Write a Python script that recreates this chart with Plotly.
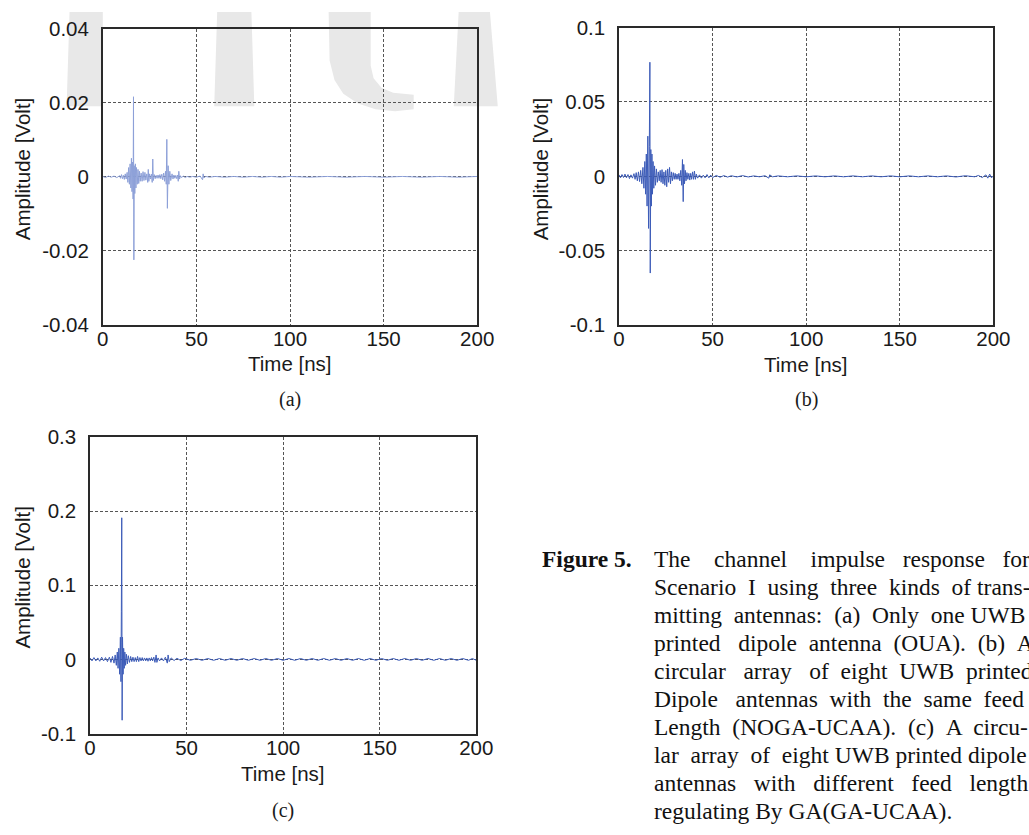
import plotly.graph_objects as go

W, H = 1029, 835

# ---------------- data ----------------
A_T = [0, 1.5, 3, 4.5, 6, 7.5, 9, 9.5, 10, 10.5,
       11, 11.5, 12, 12.5, 13, 13.4, 13.8, 14.2, 14.6, 15,
       15.3, 15.6, 15.9, 16.2, 16.4, 16.6, 16.8, 17.1, 17.4, 17.7,
       18, 18.4, 18.8, 19.2, 19.6, 20, 20.5, 21, 21.5, 22,
       22.5, 23, 23.5, 24, 24.3, 24.6, 25, 25.5, 26, 26.4,
       26.7, 27, 27.5, 28, 28.5, 29, 29.5, 30, 30.5, 31,
       31.5, 32, 32.5, 33, 33.5, 33.9, 34.2, 34.5, 34.9, 35.3,
       35.8, 36.3, 37, 37.5, 38, 38.5, 39, 39.5, 40, 40.3,
       40.6, 41, 41.5, 42, 43, 44, 45, 46.5, 48, 50,
       52, 53.3, 53.6, 54, 55, 57, 60, 65, 70, 75,
       80, 85, 90, 95, 100, 110, 120, 130, 140, 150,
       160, 170, 180, 190, 200]
A_V = [0.0001, -0.0002, 0.0002, -0.0001, 0.0002, -0.0002, 0.0003, -0.0004, 0.0006, -0.0005,
       0.0004, -0.0007, 0.0008, -0.0006, 0.0012, -0.0015, 0.0025, -0.002, 0.0035, -0.003,
       0.005, -0.004, 0.004, -0.006, 0.0216, -0.0224, 0.003, -0.0045, 0.0035, -0.003,
       0.0025, -0.002, 0.002, -0.0018, 0.0015, -0.0012, 0.001, -0.0012, 0.0014, -0.001,
       0.0012, -0.0009, 0.0008, -0.0015, 0.002, -0.0012, 0.0008, -0.0006, 0.0007, -0.0015,
       0.0048, -0.001, 0.0006, -0.0005, 0.0004, -0.0004, 0.0005, -0.0004, 0.0006, -0.0005,
       0.0007, -0.0008, 0.001, -0.0012, 0.0015, -0.002, 0.0101, -0.0085, 0.003, -0.002,
       0.0015, -0.001, 0.0008, -0.0006, 0.0005, -0.0004, 0.0004, -0.0005, 0.0005, -0.0012,
       0.0015, -0.0006, 0.0003, -0.0002, 0.0002, -0.0002, 0.0001, -0.0001, 0.0001, -0.0001,
       0.0002, -0.0008, 0.0008, -0.0003, 0.0001, -0.0001, 0.0001, -0.0001, 0.0001, -0.0001,
       0.0001, -0.0001, 0.0001, -0.0001, 0.0001, -0.0001, 0.0001, -0.0001, 0.0001, -0.0001,
       0.0001, -0.0001, 0.0001, -0.0001, 0.0001]

B_T = [0, 0.8, 1.6, 2.4, 3.2, 4, 4.8, 5.6, 6.4, 7.2,
       8, 8.6, 9.2, 9.8, 10.4, 11, 11.6, 12.2, 12.8, 13.3,
       13.8, 14.2, 14.6, 15, 15.4, 15.8, 16.2, 16.5, 16.7, 17,
       17.3, 17.6, 17.9, 18.2, 18.6, 19, 19.5, 20, 20.5, 21,
       21.5, 22, 22.5, 23, 23.5, 24, 24.5, 25, 25.5, 26,
       26.5, 27, 27.5, 28, 28.5, 29, 29.5, 30, 30.5, 31,
       31.5, 32, 32.5, 33, 33.5, 33.9, 34.3, 34.6, 35, 35.4,
       35.8, 36.3, 36.8, 37.3, 37.8, 38.3, 38.8, 39.3, 39.8, 40.3,
       40.8, 41.3, 42, 43, 44, 45, 46, 47, 48, 49,
       50, 52, 54, 56, 58, 60, 63, 66, 69, 72,
       75, 78, 80, 80.5, 82, 85, 90, 95, 100, 105,
       110, 115, 120, 125, 130, 135, 140, 145, 150, 155,
       160, 165, 170, 175, 180, 185, 190, 192, 194, 196,
       197, 198, 199, 200]
B_V = [0.001, -0.001, 0.0012, -0.0008, 0.0015, -0.001, 0.0012, -0.0015, 0.001, -0.0012,
       0.0018, -0.002, 0.0025, -0.003, 0.003, -0.0035, 0.004, -0.005, 0.006, -0.008,
       0.01, -0.012, 0.015, -0.02, 0.027, -0.035, 0.02, 0.0767, -0.065, 0.018,
       -0.02, 0.015, -0.012, 0.01, -0.008, 0.007, -0.006, 0.005, -0.004, 0.003,
       -0.003, 0.004, -0.004, 0.0045, -0.005, 0.003, -0.006, 0.004, -0.007, 0.005,
       -0.004, 0.006, -0.005, 0.003, -0.003, 0.0025, -0.002, 0.002, -0.002, 0.0015,
       -0.002, 0.002, -0.003, 0.004, -0.006, 0.0113, -0.017, 0.008, -0.005, 0.004,
       -0.003, 0.0025, -0.002, 0.002, -0.0025, 0.002, -0.002, 0.003, -0.002, 0.0035,
       -0.002, 0.0015, -0.0012, 0.001, -0.0012, 0.0008, -0.001, 0.0012, -0.001, 0.0008,
       -0.0008, 0.0006, -0.0006, 0.0005, -0.0005, 0.0004, -0.0004, 0.0005, -0.0004, 0.0003,
       -0.0003, 0.0004, -0.0012, 0.001, -0.0003, 0.0003, -0.0003, 0.0003, -0.0003, 0.0003,
       -0.0003, 0.0003, -0.0003, 0.0003, -0.0003, 0.0003, -0.0003, 0.0003, -0.0003, 0.0003,
       -0.0003, 0.0003, -0.0003, 0.0003, -0.0004, 0.0004, -0.0003, 0.0006, -0.0008, 0.001,
       -0.0012, 0.0015, -0.001, 0.0005]

C_T = [0, 1, 2, 3, 4, 5, 6, 7, 8, 9,
       10, 10.8, 11.6, 12.4, 13, 13.6, 14.1, 14.5, 14.9, 15.3,
       15.7, 16, 16.2, 16.4, 16.6, 16.8, 17.1, 17.4, 17.7, 18,
       18.4, 18.8, 19.3, 19.8, 20.4, 21, 21.6, 22.2, 22.8, 23.4,
       24, 24.6, 25.2, 25.8, 26.4, 27, 27.6, 28.2, 28.8, 29.4,
       30, 30.6, 31.2, 31.8, 32.4, 33, 33.6, 34.2, 34.6, 35.2,
       36, 37, 38, 39, 40, 40.4, 41, 42, 43.5, 45,
       47, 49, 52, 55, 58, 61, 64, 67, 70, 73,
       76, 79, 82, 85, 88, 91, 94, 97, 100, 103,
       106, 109, 112, 115, 118, 121, 124, 127, 130, 133,
       136, 139, 142, 145, 148, 151, 154, 157, 160, 163,
       166, 169, 172, 175, 178, 181, 184, 187, 190, 193,
       196, 198, 200]
C_V = [0.002, -0.002, 0.0025, -0.002, 0.002, -0.0025, 0.003, -0.002, 0.0025, -0.003,
       0.003, -0.004, 0.004, -0.005, 0.006, -0.008, 0.01, -0.012, 0.015, -0.02,
       0.03, -0.03, 0.065, 0.191, -0.082, 0.03, -0.02, 0.015, -0.012, 0.01,
       -0.008, 0.007, -0.006, 0.005, -0.004, 0.004, -0.003, 0.003, -0.003, 0.0025,
       -0.003, 0.004, -0.003, 0.0025, -0.002, 0.0025, -0.002, 0.002, -0.002, 0.002,
       -0.0025, 0.002, -0.002, 0.0025, -0.002, 0.003, -0.004, 0.006, -0.004, 0.002,
       -0.002, 0.002, -0.002, 0.003, -0.005, 0.006, -0.003, 0.002, -0.0015, 0.0015,
       -0.0015, 0.0015, -0.0012, 0.0012, -0.0012, 0.0012, -0.0012, 0.0012, -0.0012, 0.0012,
       -0.0012, 0.0012, -0.0012, 0.0012, -0.0012, 0.0012, -0.0012, 0.0012, -0.0012, 0.0012,
       -0.0012, 0.0012, -0.0012, 0.0012, -0.0012, 0.0012, -0.0012, 0.0012, -0.0012, 0.0012,
       -0.0012, 0.0012, -0.0012, 0.0012, -0.0012, 0.0012, -0.0012, 0.0012, -0.0012, 0.0012,
       -0.0012, 0.0012, -0.0012, 0.0012, -0.0012, 0.0012, -0.0012, 0.0012, -0.0012, 0.0012,
       -0.0012, 0.0012, -0.0012]

X_TICKS = [0, 50, 100, 150, 200]
X_TICK_TEXT = ["0", "50", "100", "150", "200"]
A_Y_TICKS = [-0.04, -0.02, 0, 0.02, 0.04]
A_Y_TEXT = ["-0.04", "-0.02", "0", "0.02", "0.04"]
B_Y_TICKS = [-0.1, -0.05, 0, 0.05, 0.1]
B_Y_TEXT = ["-0.1", "-0.05", "0", "0.05", "0.1"]
C_Y_TICKS = [-0.1, 0, 0.1, 0.2, 0.3]
C_Y_TEXT = ["-0.1", "0", "0.1", "0.2", "0.3"]

X_TITLE = "Time [ns]"
Y_TITLE = "Amplitude [Volt]"
PANEL_LABELS = ["(a)", "(b)", "(c)"]

CAPTION_HEAD = "Figure 5."
CAPTION_LINES = [
    "The channel impulse response for",
    "Scenario I using three kinds of trans-",
    "mitting antennas: (a) Only one UWB",
    "printed dipole antenna (OUA). (b) A",
    "circular array of eight UWB printed",
    "Dipole antennas with the same feed",
    "Length (NOGA-UCAA). (c) A circu-",
    "lar array of eight UWB printed dipole",
    "antennas with different feed length",
    "regulating By GA(GA-UCAA).",
]
# extra non-breaking spaces to imitate the justified column
CAPTION_PAD = [10, 5, 4, 6, 7, 6, 4, 3, 8, 0]

# ---------------- layout helpers (pixel -> paper) ----------------
def px(x):
    return x / W

def py(y):
    return 1 - y / H

SANS = "Liberation Sans, Arial, Helvetica, sans-serif"
SERIF = "Liberation Serif, Times New Roman, serif"
INK = "#1a1a1a"
FS = 20.5

# panel boxes in pixels: left, right, top, bottom
BOX = {
    "a": (99, 482, 17, 322),
    "b": (627, 1010, 16, 322),
    "c": (86, 481, 437, 742),
}

fig = go.Figure()

series = [
    ("a", A_T, A_V, "#8da0d8", "x", "y"),
    ("b", B_T, B_V, "#3d5cb8", "x2", "y2"),
    ("c", C_T, C_V, "#3d5cb8", "x3", "y3"),
]
for key, t, v, col, xa, ya in series:
    fig.add_trace(go.Scatter(x=t, y=v, mode="lines", xaxis=xa, yaxis=ya,
                             line=dict(color=col, width=1, simplify=False),
                             showlegend=False, hoverinfo="skip"))

def xaxis_cfg(box, anchor):
    l, r, t, b = box
    return dict(domain=[px(l), px(r)], anchor=anchor, range=[0, 200],
                tickmode="array", tickvals=X_TICKS, ticktext=X_TICK_TEXT,
                ticks="", ticklen=0, ticklabelstandoff=-5,
                tickfont=dict(family=SANS, size=FS, color=INK),
                showline=True, mirror=True, linecolor="#2a2a2a", linewidth=1.5,
                showgrid=True, gridcolor="#555555", gridwidth=0.8, griddash="3px,2px",
                zeroline=False, fixedrange=True)

def yaxis_cfg(box, anchor, rng, vals, text):
    l, r, t, b = box
    return dict(domain=[py(b), py(t)], anchor=anchor, range=rng,
                tickmode="array", tickvals=vals, ticktext=text,
                ticks="outside", ticklen=8, tickcolor="rgba(0,0,0,0)",
                tickfont=dict(family=SANS, size=FS, color=INK),
                showline=True, mirror=True, linecolor="#2a2a2a", linewidth=1.5,
                showgrid=True, gridcolor="#555555", gridwidth=0.8, griddash="3px,2px",
                zeroline=False, fixedrange=True)

annotations = []
def add_text(x, y, text, size, family=SANS, anchor="center", angle=0, color=INK):
    annotations.append(dict(x=px(x), y=py(y), xref="paper", yref="paper",
                            text=text, showarrow=False, textangle=angle,
                            xanchor=anchor, yanchor="middle",
                            font=dict(family=family, size=size, color=color)))

title_pos = {
    "a": ((99 + 482) / 2, 361, 17, 162, (99 + 482) / 2, 398),
    "b": ((627 + 1010) / 2, 362, 547, 162, (627 + 1010) / 2, 398),
    "c": ((86 + 481) / 2, 783, 17, 582, (86 + 481) / 2, 821),
}
for i, key in enumerate(["a", "b", "c"]):
    tx, ty, yx, yy, lx, ly = title_pos[key]
    add_text(tx, ty, X_TITLE, FS)
    add_text(yx, yy, Y_TITLE, FS, angle=-90)
    add_text(lx, ly, PANEL_LABELS[i], 20, family=SERIF)

# caption
CAP_TOP, CAP_STEP = 562, 28.8
add_text(546, CAP_TOP, "<b>" + CAPTION_HEAD + "</b>", 23.5, family=SERIF, anchor="left", color="#111")
for i, line in enumerate(CAPTION_LINES):
    words = line.split(" ")
    gaps = len(words) - 1
    pad = CAPTION_PAD[i]
    out = words[0]
    for g in range(gaps):
        extra = pad // gaps + (1 if g < pad % gaps else 0)
        out += " " + "\u00a0" * extra + words[g + 1]
    add_text(661, CAP_TOP + i * CAP_STEP, out, 23.5, family=SERIF, anchor="left", color="#111")

# light-grey watermark letters behind panel (a)
WM = "#e8e8e8"
def path(points):
    return "M " + " L ".join(f"{px(x):.5f},{py(y):.5f}" for x, y in points) + " Z"

shapes = [
    dict(type="path", xref="paper", yref="paper", layer="below", line=dict(width=0), fillcolor=WM,
         path=path([(65, 0), (99, 0), (99, 97), (62, 97)])),
    dict(type="path", xref="paper", yref="paper", layer="below", line=dict(width=0), fillcolor=WM,
         path=path([(216, 0), (251, 0), (254, 97), (213, 97)])),
    dict(type="path", xref="paper", yref="paper", layer="below", line=dict(width=0), fillcolor=WM,
         path=path([(330, 0), (373, 0), (373, 55), (376, 68), (384, 78), (396, 83), (417, 85),
                    (417, 100), (398, 102), (378, 100), (360, 94), (345, 84), (336, 70), (331, 50)])),
    dict(type="path", xref="paper", yref="paper", layer="below", line=dict(width=0), fillcolor=WM,
         path=path([(463, 0), (495, 0), (503, 97), (458, 97)])),
]

fig.update_layout(
    width=W, height=H, autosize=False,
    margin=dict(l=0, r=0, t=0, b=0),
    paper_bgcolor="white", plot_bgcolor="rgba(0,0,0,0)",
    showlegend=False,
    xaxis=xaxis_cfg(BOX["a"], "y"),
    yaxis=yaxis_cfg(BOX["a"], "x", [-0.04, 0.04], A_Y_TICKS, A_Y_TEXT),
    xaxis2=xaxis_cfg(BOX["b"], "y2"),
    yaxis2=yaxis_cfg(BOX["b"], "x2", [-0.1, 0.1], B_Y_TICKS, B_Y_TEXT),
    xaxis3=xaxis_cfg(BOX["c"], "y3"),
    yaxis3=yaxis_cfg(BOX["c"], "x3", [-0.1, 0.3], C_Y_TICKS, C_Y_TEXT),
    annotations=annotations,
    shapes=shapes,
)

fig.write_html("out.html", config={"displayModeBar": False},
               post_script="document.body.style.margin='0';document.body.style.overflow='hidden';")
